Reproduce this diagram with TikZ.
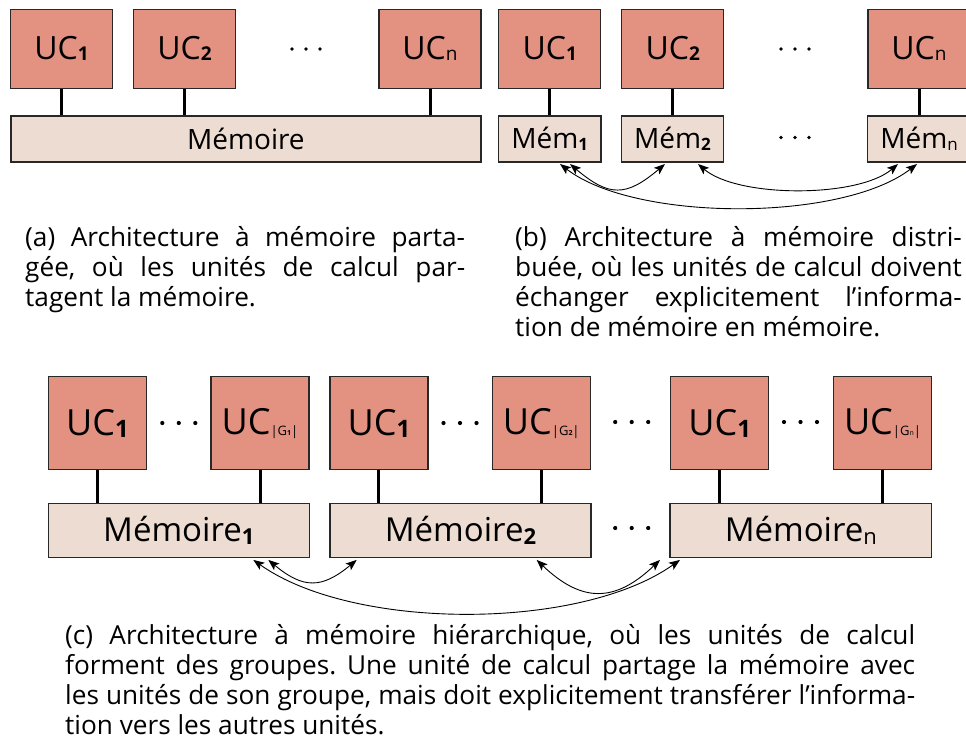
\documentclass[tikz,border=0pt]{standalone}
\usepackage{fontspec}
\setmainfont{Open Sans}
\usetikzlibrary{arrows.meta,calc}

\definecolor{ucfill}{RGB}{227,146,130}
\definecolor{memfill}{RGB}{237,220,210}
\definecolor{edgecol}{RGB}{40,40,40}

% lowered small text used for indices: size, shift, text
\newcommand\lowtext[3]{\raisebox{#2}{\fontsize{#1}{#1}\selectfont #3}}
% bold variant for numeric indices
\newcommand\lownum[3]{\raisebox{#2}{\fontsize{#1}{#1}\selectfont\bfseries #3}}

\tikzset{
  ucbox/.style={draw=edgecol, line width=1.2pt, fill=ucfill, inner sep=0pt,
    minimum width=102pt, minimum height=79pt, font=\fontsize{32}{32}\selectfont},
  membox/.style={draw=edgecol, line width=1.2pt, fill=memfill, inner sep=0pt,
    minimum height=46pt, font=\fontsize{28}{28}\selectfont},
  bigucbox/.style={ucbox, minimum width=98pt, minimum height=93pt,
    font=\fontsize{36}{36}\selectfont},
  bigmembox/.style={membox, minimum width=261pt, minimum height=54pt,
    font=\fontsize{33}{33}\selectfont},
  bus/.style={line width=3pt, black},
  xfer/.style={{Stealth[length=11pt,width=8.5pt,inset=2.5pt]}-{Stealth[length=11pt,width=8.5pt,inset=2.5pt]},
    line width=0.9pt, black},
  caption/.style={anchor=base west, inner sep=0pt,
    font=\fontsize{26.2}{30}\selectfont\frenchspacing},
  ellip/.pic={\foreach \k in {-1,0,1} \fill (\k*14,0) circle (1.9);},
  bigellip/.pic={\foreach \k in {-1,0,1} \fill (\k*16.5,0) circle (2.1);},
}

\begin{document}
\begin{tikzpicture}[x=1pt,y=-1pt]
\useasboundingbox (0,0) rectangle (966,747);

% ---------- shared memory ----------
\node[ucbox] (ua1) at (61.5,48.7) {UC\lownum{19pt}{-1pt}{1}};
\node[ucbox] (ua2) at (184.5,48.7) {UC\lownum{19pt}{-1pt}{2}};
\node[ucbox] (uan) at (430,48.7) {UC\lowtext{19pt}{-1pt}{n}};
\pic at (306,49) {ellip};
\node[membox, minimum width=470pt] (mema) at (245.9,139) {Mémoire};
\foreach \u in {ua1,ua2,uan}
  \draw[bus] (\u.south) -- (\u.south |- mema.north);

% ---------- distributed memory ----------
\node[ucbox] (ub1) at (549.7,48.7) {UC\lownum{19pt}{-1pt}{1}};
\node[ucbox] (ub2) at (672.8,48.7) {UC\lownum{19pt}{-1pt}{2}};
\node[ucbox] (ubn) at (919,48.7) {UC\lowtext{19pt}{-1pt}{n}};
\pic at (795,49) {ellip};
\node[membox, minimum width=102.5pt] (memb1) at (549.7,138.9) {Mém\lownum{17pt}{-1.7pt}{1}};
\node[membox, minimum width=102.5pt] (memb2) at (672.5,138.9) {Mém\lownum{17pt}{-1.7pt}{2}};
\node[membox, minimum width=102.5pt] (membn) at (919,138.9) {Mém\lowtext{17pt}{-1.7pt}{n}};
\pic at (795,137.5) {ellip};
\foreach \u/\m in {ub1/memb1,ub2/memb2,ubn/membn}
  \draw[bus] (\u.south) -- (\u.south |- \m.north);

\draw[xfer] ([xshift=20.3pt,yshift=-1.5pt]memb1.south)
  .. controls +(39,33) and +(-39,33) .. ([xshift=-7.5pt,yshift=-1.5pt]memb2.south);
\draw[xfer] ([xshift=25.5pt,yshift=-1.5pt]memb2.south)
  .. controls +(40,34) and +(-40,34) .. ([xshift=-21pt,yshift=-1.5pt]membn.south);
\draw[xfer] ([xshift=10.3pt,yshift=-1.5pt]memb1.south)
  .. controls +(75,58) and +(-75,58) .. ([xshift=-2pt,yshift=-1.5pt]membn.south);

% ---------- captions (a) and (b) ----------
\node[caption] (ca1) at (25,246.7) {\makebox[440pt][s]{(a) Architecture à mémoire parta-}};
\node[caption] (ca2) at (25,276.7) {\makebox[440pt][s]{gée, où les unités de calcul par-}};
\node[caption] (ca3) at (25,306.7) {tagent la mémoire.};

\node[caption] (cb1) at (515,246.7) {\makebox[446.7pt][s]{(b) Architecture à mémoire distri-}};
\node[caption] (cb2) at (515,276.7) {\makebox[446.7pt][s]{buée, où les unités de calcul doivent}};
\node[caption] (cb3) at (515,306.7) {\makebox[446.7pt][s]{échanger explicitement l’informa-}};
\node[caption] (cb4) at (515,336.7) {tion de mémoire en mémoire.};

% ---------- hierarchical memory ----------
\node[bigucbox] (g1a) at (97.5,423.3) {UC\lownum{24pt}{-2pt}{1}};
\node[bigucbox] (g1z) at (260,423.3) {UC\lowtext{13pt}{-0.5pt}{|G\lownum{7pt}{0pt}{1}|}};
\node[bigucbox] (g2a) at (378.9,423.3) {UC\lownum{24pt}{-2pt}{1}};
\node[bigucbox] (g2z) at (541.3,423.3) {UC\lowtext{13pt}{-0.5pt}{|G\lownum{7pt}{0pt}{2}|}};
\node[bigucbox] (g3a) at (719.7,423.3) {UC\lownum{24pt}{-2pt}{1}};
\node[bigucbox] (g3z) at (882.5,423.3) {UC\lowtext{13pt}{-0.5pt}{|G\lowtext{7pt}{0pt}{n}|}};
\pic at (178.8,423) {bigellip};
\pic at (460,423) {bigellip};
\pic at (631.7,422) {bigellip};
\pic at (800.5,422) {bigellip};

\node[bigmembox] (memc1) at (178.8,530.3) {Mémoire\lownum{22pt}{-2.7pt}{1}};
\node[bigmembox] (memc2) at (460.5,530.3) {Mémoire\lownum{22pt}{-2.7pt}{2}};
\node[bigmembox, minimum width=261.7pt] (memcn) at (800.8,530.3) {Mémoire\lowtext{22pt}{-2.7pt}{n}};
\pic at (631.7,528) {bigellip};

\foreach \u/\m in {g1a/memc1,g1z/memc1,g2a/memc2,g2z/memc2,g3a/memcn,g3z/memcn}
  \draw[bus] (\u.south) -- (\u.south |- \m.north);

\draw[xfer] ([xshift=89.5pt,yshift=-2pt]memc1.south)
  .. controls +(35,29) and +(-35,29) .. ([xshift=-103.8pt,yshift=-2pt]memc2.south);
\draw[xfer] ([xshift=76.2pt,yshift=-2pt]memc2.south)
  .. controls +(45,43) and +(-45,43) .. ([xshift=-140.8pt,yshift=-2pt]memcn.south);
\draw[xfer] ([xshift=74.5pt,yshift=-2pt]memc1.south)
  .. controls +(100,71) and +(-100,71) .. ([xshift=-120.8pt,yshift=-2pt]memcn.south);

% ---------- caption (c) ----------
\node[caption] (cc1) at (65,644.3) {\makebox[850pt][s]{(c) Architecture à mémoire hiérarchique, où les unités de calcul}};
\node[caption] (cc2) at (65,674.3) {\makebox[850pt][s]{forment des groupes. Une unité de calcul partage la mémoire avec}};
\node[caption] (cc3) at (65,704.3) {\makebox[850pt][s]{les unités de son groupe, mais doit explicitement transférer l’informa-}};
\node[caption] (cc4) at (65,734.3) {tion vers les autres unités.};
\end{tikzpicture}
\end{document}
